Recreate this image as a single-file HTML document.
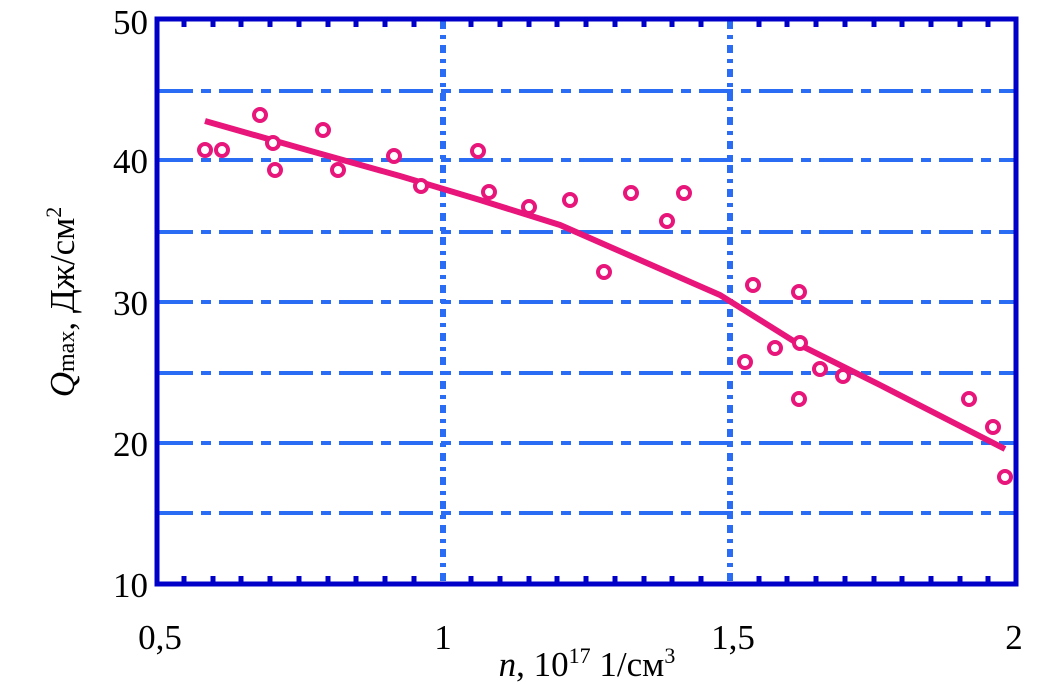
<!DOCTYPE html>
<html><head><meta charset="utf-8"><style>
html,body{margin:0;padding:0;background:#fff;width:1040px;height:685px;overflow:hidden}
</style></head><body>
<svg width="1040" height="685" viewBox="0 0 1040 685" xmlns="http://www.w3.org/2000/svg" font-family="Liberation Serif, serif">
<g stroke="#2b6cf5" stroke-width="4" fill="none">
<g stroke-dasharray="34,8,10,8">
<line x1="159" y1="91" x2="1014" y2="91"/>
<line x1="159" y1="160" x2="1014" y2="160"/>
<line x1="159" y1="232" x2="1014" y2="232"/>
<line x1="159" y1="302" x2="1014" y2="302"/>
<line x1="159" y1="373" x2="1014" y2="373"/>
<line x1="159" y1="443" x2="1014" y2="443"/>
<line x1="159" y1="513" x2="1014" y2="513"/>
</g>
<g stroke-dasharray="8,6,4,6" stroke-width="6">
<line x1="443" y1="21" x2="443" y2="582"/>
<line x1="730" y1="21" x2="730" y2="582"/>
</g>
</g>
<rect x="157" y="19" width="859" height="565" fill="none" stroke="#0000c8" stroke-width="5"/>
<g stroke="#0000c8" stroke-width="5">
<path d="M184 21v6M213 21v6M241 21v6M270 21v6M299 21v6M328 21v6M356 21v6M385 21v6M414 21v6M471 21v6M500 21v6M529 21v6M557 21v6M586 21v6M615 21v6M644 21v6M672 21v6M701 21v6M759 21v6M787 21v6M816 21v6M845 21v6M874 21v6M902 21v6M931 21v6M960 21v6M988 21v6"/>
<path d="M184 582v-6M213 582v-6M241 582v-6M270 582v-6M299 582v-6M328 582v-6M356 582v-6M385 582v-6M414 582v-6M471 582v-6M500 582v-6M529 582v-6M557 582v-6M586 582v-6M615 582v-6M644 582v-6M672 582v-6M701 582v-6M759 582v-6M787 582v-6M816 582v-6M845 582v-6M874 582v-6M902 582v-6M931 582v-6M960 582v-6M988 582v-6"/>
</g>
<polyline points="205,121 300,148 400,176 480,200 560,225 640,260 720,295 800,345 880,385 1005,449" fill="none" stroke="#e8157a" stroke-width="6"/>
<g fill="#fff" stroke="#e8157a" stroke-width="4">
<circle cx="205" cy="150" r="6"/><circle cx="222" cy="150" r="6"/><circle cx="260" cy="115" r="6"/><circle cx="273" cy="143" r="6"/><circle cx="275" cy="170" r="6"/><circle cx="323" cy="130" r="6"/><circle cx="338" cy="170" r="6"/><circle cx="394" cy="156" r="6"/><circle cx="421" cy="186" r="6"/><circle cx="478" cy="151" r="6"/><circle cx="489" cy="192" r="6"/><circle cx="529" cy="207" r="6"/><circle cx="570" cy="200" r="6"/><circle cx="604" cy="272" r="6"/><circle cx="631" cy="193" r="6"/><circle cx="667" cy="221" r="6"/><circle cx="684" cy="193" r="6"/><circle cx="745" cy="362" r="6"/><circle cx="753" cy="285" r="6"/><circle cx="775" cy="348" r="6"/><circle cx="799" cy="292" r="6"/><circle cx="800" cy="343" r="6"/><circle cx="799" cy="399" r="6"/><circle cx="820" cy="369" r="6"/><circle cx="843" cy="376" r="6"/><circle cx="969" cy="399" r="6"/><circle cx="993" cy="427" r="6"/><circle cx="1005" cy="477" r="6"/>
</g>
<g font-size="35" fill="#000" text-anchor="end">
<text x="148" y="34">50</text><text x="148" y="173">40</text><text x="148" y="315">30</text><text x="148" y="456">20</text><text x="148" y="597">10</text>
</g>
<g font-size="35" fill="#000" text-anchor="middle">
<text x="160" y="649">0,5</text><text x="443" y="649">1</text><text x="733" y="649">1,5</text><text x="1014" y="649">2</text>
<text x="587" y="676"><tspan font-style="italic">n</tspan>, 10<tspan font-size="22" dy="-13">17</tspan><tspan dy="13"> 1/см</tspan><tspan font-size="22" dy="-13">3</tspan></text>
</g>
<text transform="translate(74,302) rotate(-90)" font-size="35" text-anchor="middle" fill="#000"><tspan font-style="italic">Q</tspan><tspan font-size="24">max</tspan>, Дж/см<tspan font-size="22" dy="-13">2</tspan></text>
</svg>
</body></html>
